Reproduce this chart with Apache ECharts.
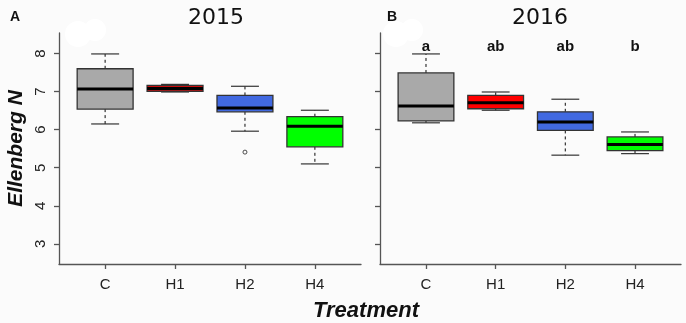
<!DOCTYPE html>
<html>
<head>
<meta charset="utf-8">
<script src="https://cdn.jsdelivr.net/npm/echarts@6/dist/echarts.min.js"></script>
<style>
html, body { margin: 0; padding: 0; background: #fbfbfb; }
#grafico { width: 686px; height: 323px; }
</style>
</head>
<body>
<div id="grafico"></div>
<script>
var tratamentos = ['C', 'H1', 'H2', 'H4'];
var cores = ['#a9a9a9', '#ff0000', '#4169e1', '#00ff00'];
var ticksY = [3, 4, 5, 6, 7, 8];
var posicoesX = [1, 2, 3, 4];

// [min, Q1, mediana, Q3, max]
var caixas2015 = [
  [6.15, 6.54, 7.07, 7.60, 7.99],
  [6.99, 7.01, 7.08, 7.16, 7.19],
  [5.96, 6.47, 6.57, 6.90, 7.14],
  [5.10, 5.55, 6.09, 6.34, 6.51]
];
var outliers2015 = [[3, 5.41]];

var caixas2016 = [
  [6.18, 6.23, 6.62, 7.49, 7.99],
  [6.51, 6.55, 6.71, 6.90, 6.99],
  [5.33, 5.98, 6.20, 6.47, 6.80],
  [5.37, 5.45, 5.61, 5.81, 5.94]
];
var letras2016 = ['a', 'ab', 'ab', 'b'];
var alturaLetras = 8.17;

function montaDados(caixas) {
  return caixas.map(function (c, i) {
    return [posicoesX[i]].concat(c);
  });
}

function desenhaCaixa(params, api) {
  var x = api.value(0);
  var pMin = api.coord([x, api.value(1)]);
  var pQ1 = api.coord([x, api.value(2)]);
  var pMed = api.coord([x, api.value(3)]);
  var pQ3 = api.coord([x, api.value(4)]);
  var pMax = api.coord([x, api.value(5)]);
  var w = api.size([0.8, 0])[0];
  var cx = pMed[0];
  var cor = cores[params.dataIndex];
  var traco = { stroke: '#333', lineWidth: 1.2, lineDash: [3, 3] };
  var solido = { stroke: '#333', lineWidth: 1.2 };
  return {
    type: 'group',
    children: [
      { type: 'line', shape: { x1: cx, y1: pQ3[1], x2: cx, y2: pMax[1] }, style: traco },
      { type: 'line', shape: { x1: cx, y1: pQ1[1], x2: cx, y2: pMin[1] }, style: traco },
      { type: 'line', shape: { x1: cx - w / 4, y1: pMax[1], x2: cx + w / 4, y2: pMax[1] }, style: solido },
      { type: 'line', shape: { x1: cx - w / 4, y1: pMin[1], x2: cx + w / 4, y2: pMin[1] }, style: solido },
      { type: 'rect', shape: { x: cx - w / 2, y: pQ3[1], width: w, height: pQ1[1] - pQ3[1] },
        style: { fill: cor, stroke: '#333', lineWidth: 1.3 } },
      { type: 'line', shape: { x1: cx - w / 2, y1: pMed[1], x2: cx + w / 2, y2: pMed[1] },
        style: { stroke: '#000', lineWidth: 3 } }
    ]
  };
}

function desenhaLetra(params, api) {
  var p = api.coord([api.value(0), api.value(1)]);
  return {
    type: 'text',
    x: p[0], y: p[1],
    style: {
      text: letras2016[params.dataIndex], fill: '#111', align: 'center', verticalAlign: 'middle',
      fontSize: 15, fontWeight: 'bold', fontFamily: 'Liberation Sans'
    }
  };
}

function eixoX(g) {
  return {
    type: 'value', gridIndex: g, min: 0.34, max: 4.66,
    axisLine: { show: true, lineStyle: { color: '#555', width: 1.3 } },
    axisTick: { show: true, customValues: posicoesX, length: 5, lineStyle: { color: '#555', width: 1.3 } },
    axisLabel: {
      customValues: posicoesX, fontSize: 15, color: '#222', margin: 13,
      fontFamily: 'Liberation Sans',
      formatter: function (v) { return tratamentos[Math.round(v) - 1]; }
    },
    splitLine: { show: false }
  };
}

function eixoY(g, comRotulo) {
  var e = {
    type: 'value', gridIndex: g, min: 2.47, max: 8.54,
    axisLine: { show: true, lineStyle: { color: '#555', width: 1.3 } },
    axisTick: { show: true, customValues: ticksY, length: 5, lineStyle: { color: '#555', width: 1.3 } },
    axisLabel: {
      show: comRotulo, customValues: ticksY, rotate: 90, fontSize: 15, color: '#222', margin: 11,
      fontFamily: 'Liberation Sans'
    },
    splitLine: { show: false }
  };
  if (comRotulo) {
    e.name = 'Ellenberg N';
    e.nameLocation = 'middle';
    e.nameRotate = 90;
    e.nameGap = 32;
    e.nameTextStyle = { fontSize: 21, fontWeight: 'bold', fontStyle: 'italic', color: '#111', fontFamily: 'Liberation Sans' };
  }
  return e;
}

var chartDom = document.getElementById('grafico');
var myChart = echarts.init(chartDom);
var option;

option = {
  backgroundColor: '#fbfbfb',
  animation: false,
  title: [
    { text: '2015', left: 211, top: 2, textAlign: 'center',
      textStyle: { fontSize: 22, fontWeight: 'normal', color: '#111', fontFamily: 'DejaVu Sans' } },
    { text: '2016', left: 535, top: 2, textAlign: 'center',
      textStyle: { fontSize: 22, fontWeight: 'normal', color: '#111', fontFamily: 'DejaVu Sans' } },
    { text: 'A', left: 5, top: 5,
      textStyle: { fontSize: 14, fontWeight: 'bold', color: '#111', fontFamily: 'Liberation Sans' } },
    { text: 'B', left: 382, top: 5,
      textStyle: { fontSize: 14, fontWeight: 'bold', color: '#111', fontFamily: 'Liberation Sans' } }
  ],
  graphic: [
    { type: 'circle', shape: { cx: 78, cy: 34, r: 13 }, style: { fill: '#fff' }, z: 1 },
    { type: 'circle', shape: { cx: 95, cy: 30, r: 11 }, style: { fill: '#fff' }, z: 1 },
    { type: 'circle', shape: { cx: 396, cy: 34, r: 13 }, style: { fill: '#fff' }, z: 1 },
    { type: 'circle', shape: { cx: 412, cy: 30, r: 11 }, style: { fill: '#fff' }, z: 1 },
    { type: 'text', left: 313, top: 300,
      style: { text: 'Treatment', fontSize: 22, fontWeight: 'bold', fontStyle: 'italic', fill: '#111', fontFamily: 'Liberation Sans' } }
  ],
  grid: [
    { left: 59, top: 33, width: 302, height: 231 },
    { left: 380, top: 33, width: 301, height: 231 }
  ],
  xAxis: [eixoX(0), eixoX(1)],
  yAxis: [eixoY(0, true), eixoY(1, false)],
  series: [
    {
      type: 'custom', xAxisIndex: 0, yAxisIndex: 0,
      renderItem: desenhaCaixa,
      encode: { x: 0, y: [1, 2, 3, 4, 5] },
      data: montaDados(caixas2015), z: 3
    },
    {
      type: 'scatter', xAxisIndex: 0, yAxisIndex: 0,
      symbol: 'circle', symbolSize: 4,
      itemStyle: { color: 'rgba(0,0,0,0)', borderColor: '#222', borderWidth: 1 },
      data: outliers2015, z: 4
    },
    {
      type: 'custom', xAxisIndex: 1, yAxisIndex: 1,
      renderItem: desenhaCaixa,
      encode: { x: 0, y: [1, 2, 3, 4, 5] },
      data: montaDados(caixas2016), z: 3
    },
    {
      type: 'custom', xAxisIndex: 1, yAxisIndex: 1,
      renderItem: desenhaLetra,
      encode: { x: 0, y: 1 },
      data: posicoesX.map(function (x) { return [x, alturaLetras]; }), z: 5
    }
  ]
};

option && myChart.setOption(option);
</script>
</body>
</html>
